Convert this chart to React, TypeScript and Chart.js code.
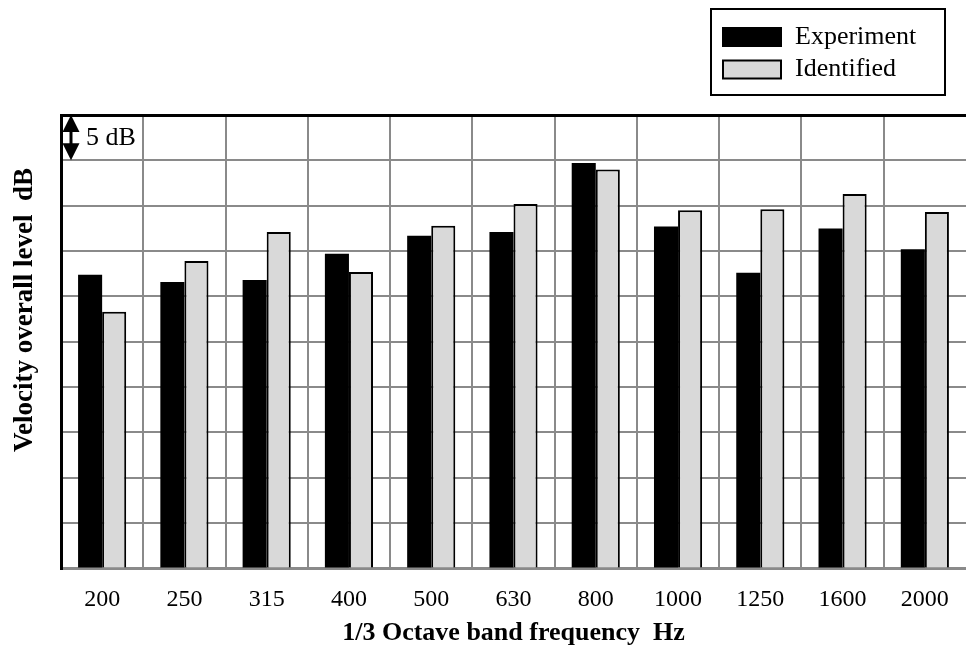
import React, { useEffect, useRef } from "react";
import { Chart, registerables } from "chart.js";

Chart.register(...registerables);

const categories = ["200", "250", "315", "400", "500", "630", "800", "1000", "1250", "1600", "2000"];
const experiment = [32.4, 31.6, 31.8, 34.7, 36.7, 37.1, 44.7, 37.7, 32.6, 37.5, 35.2];
const identified = [28.3, 33.9, 37.1, 32.7, 37.8, 40.2, 44.0, 39.5, 39.6, 41.3, 39.3];
const seriesNames = ["Experiment", "Identified"];
const xTitle = "1/3 Octave band frequency  Hz";
const yTitle = "Velocity overall level  dB";
const scaleNote = "5 dB";
const yMin = 0;
const yMax = 50;
const yStep = 5;

const SERIF = "'Liberation Serif', 'Times New Roman', serif";
const GRID = "#8a8a8a";
const LIGHT = "#d9d9d9";

const decorPlugin = {
  id: "decor",
  afterDraw(chart: any) {
    const ctx = chart.ctx;
    const ys = chart.scales.y;
    const area = chart.chartArea;
    ctx.save();
    // y-axis title
    ctx.save();
    ctx.translate(32, 310);
    ctx.rotate(-Math.PI / 2);
    ctx.font = `bold 27px ${SERIF}`;
    ctx.fillStyle = "#000";
    ctx.textAlign = "center";
    ctx.textBaseline = "alphabetic";
    ctx.fillText(yTitle, 0, 0);
    ctx.restore();

    // 5 dB double arrow
    const yTop = ys.getPixelForValue(yMax);
    const yBot = ys.getPixelForValue(yMax - yStep);
    const ax = area.left + 10;
    const hw = 8.5;
    const hh = 17;
    ctx.fillStyle = "#000";
    ctx.strokeStyle = "#000";
    ctx.lineWidth = 3;
    ctx.beginPath();
    ctx.moveTo(ax, yTop + hh - 2);
    ctx.lineTo(ax, yBot - hh + 2);
    ctx.stroke();
    ctx.beginPath();
    ctx.moveTo(ax, yTop);
    ctx.lineTo(ax - hw, yTop + hh);
    ctx.lineTo(ax + hw, yTop + hh);
    ctx.closePath();
    ctx.fill();
    ctx.beginPath();
    ctx.moveTo(ax, yBot);
    ctx.lineTo(ax - hw, yBot - hh);
    ctx.lineTo(ax + hw, yBot - hh);
    ctx.closePath();
    ctx.fill();
    ctx.font = `26px ${SERIF}`;
    ctx.textAlign = "left";
    ctx.textBaseline = "middle";
    ctx.fillText(scaleNote, area.left + 25, (yTop + yBot) / 2);

    // legend
    const ds = chart.data.datasets;
    ctx.lineWidth = 2;
    ctx.strokeStyle = "#000";
    ctx.fillStyle = "#fff";
    ctx.fillRect(711, 9, 234, 86);
    ctx.strokeRect(711, 9, 234, 86);
    const rows = [37, 69.5];
    ds.forEach((d: any, i: number) => {
      const cy = rows[i];
      ctx.fillStyle = d.backgroundColor;
      ctx.fillRect(723, cy - 9, 58, 18);
      ctx.lineWidth = 2;
      ctx.strokeStyle = "#000";
      ctx.strokeRect(723, cy - 9, 58, 18);
      ctx.fillStyle = "#000";
      ctx.font = `26px ${SERIF}`;
      ctx.textAlign = "left";
      ctx.textBaseline = "middle";
      ctx.fillText(d.label, 795, cy);
    });
    ctx.restore();
  },
};

export default function App() {
  const ref = useRef<HTMLCanvasElement | null>(null);
  useEffect(() => {
    if (!ref.current) return;
    const chart = new Chart(ref.current, {
      type: "bar",
      data: {
        labels: categories,
        datasets: [
          {
            label: seriesNames[0],
            data: experiment,
            backgroundColor: "#000000",
            borderColor: "#000000",
            borderWidth: 0,
            barPercentage: 1,
            categoryPercentage: 0.585,
          },
          {
            label: seriesNames[1],
            data: identified,
            backgroundColor: LIGHT,
            borderColor: "#000000",
            borderWidth: 2,
            barPercentage: 1,
            categoryPercentage: 0.585,
          },
        ],
      },
      options: {
        animation: false,
        responsive: true,
        maintainAspectRatio: false,
        layout: { padding: { left: 61, right: 0, top: 115, bottom: 0 } },
        plugins: {
          legend: { display: false },
          tooltip: { enabled: false },
        },
        scales: {
          x: {
            grid: {
              drawTicks: false,
              color: (c: any) => (c.index === 0 || c.index === undefined ? "rgba(0,0,0,0)" : GRID),
              lineWidth: 2,
            },
            border: { display: true, color: GRID, width: 3 },
            ticks: {
              color: "#000",
              font: { family: SERIF, size: 24 },
              padding: 16.5,
              maxRotation: 0,
            },
            title: {
              display: true,
              text: xTitle,
              color: "#000",
              font: { family: SERIF, size: 26, weight: "bold" },
              padding: { top: -12.5, bottom: 2 },
            },
          },
          y: {
            min: yMin,
            max: yMax,
            ticks: { display: false, stepSize: yStep },
            grid: {
              drawTicks: false,
              color: (c: any) => (c.tick && c.tick.value === yMax ? "#000" : GRID),
              lineWidth: (c: any) => (c.tick && c.tick.value === yMax ? 3 : 2),
            },
            border: { display: true, color: "#000", width: 3 },
          },
        },
      },
      plugins: [decorPlugin],
    });
    return () => chart.destroy();
  }, []);
  return (
    <div style={{ position: "fixed", left: 0, top: 0, width: 966, height: 651, background: "#fff" }}>
      <canvas ref={ref} />
    </div>
  );
}
